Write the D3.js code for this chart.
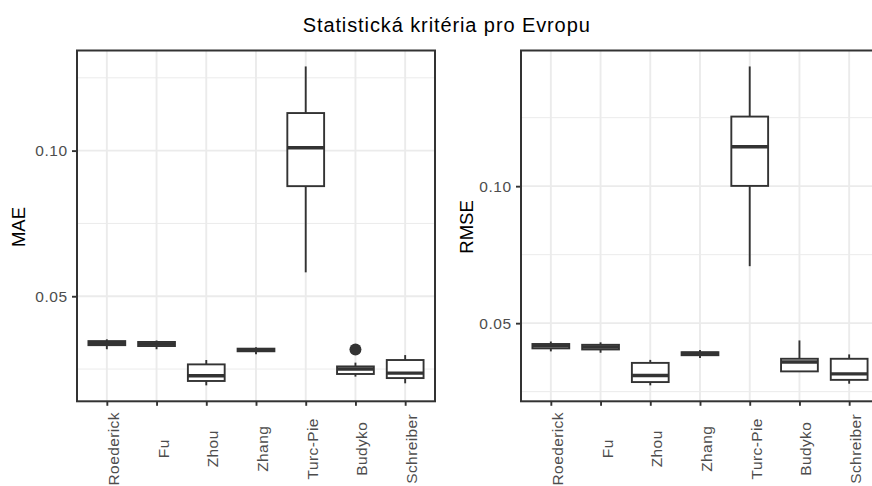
<!DOCTYPE html>
<html>
<head>
<meta charset="utf-8">
<script src="https://cdn.jsdelivr.net/npm/d3@7"></script>
<style>
body { margin: 0; background: #fff; }
text { font-family: "Liberation Sans", Arial, sans-serif; }
</style>
</head>
<body>
<div class="chart"></div>
<script>
var methods = ["Roederick", "Fu", "Zhou", "Zhang", "Turc-Pie", "Budyko", "Schreiber"]

// MAE box stats
var maeLow  = [0.0318, 0.0318, 0.0194, 0.0301, 0.0582, 0.0224, 0.0201]
var maeQ1   = [0.0332, 0.0329, 0.0209, 0.0311, 0.0878, 0.0233, 0.0219]
var maeMed  = [0.0338, 0.0336, 0.0227, 0.0315, 0.1010, 0.0250, 0.0236]
var maeQ3   = [0.0346, 0.0343, 0.0266, 0.0320, 0.1129, 0.0259, 0.0281]
var maeHigh = [0.0352, 0.0348, 0.0281, 0.0325, 0.1289, 0.0272, 0.0298]
var maeOut  = [[], [], [], [], [], [0.0317], []]

// RMSE box stats
var rmseLow  = [0.0397, 0.0392, 0.0273, 0.0373, 0.0708, 0.0324, 0.0279]
var rmseQ1   = [0.0408, 0.0404, 0.0285, 0.0383, 0.1001, 0.0324, 0.0293]
var rmseMed  = [0.0417, 0.0413, 0.0309, 0.0389, 0.1144, 0.0358, 0.0315]
var rmseQ3   = [0.0424, 0.0421, 0.0355, 0.0394, 0.1254, 0.0370, 0.0370]
var rmseHigh = [0.0433, 0.0430, 0.0366, 0.0402, 0.1437, 0.0437, 0.0386]
var rmseOut  = [[], [], [], [], [], [], []]

var yTicks = [0.05, 0.10]
var yMinor = [0.025, 0.075, 0.125]

var title = "Statistická kritéria pro Evropu"

let svg = d3.select('div.chart').append('svg')
  .attr("width", 872).attr("height", 486)
  .style("display", "block")

svg.append("rect").attr("width", 872).attr("height", 486).attr("fill", "#fff")

svg.append("text")
  .attr("x", 446.7).attr("y", 32)
  .attr("text-anchor", "middle")
  .style("font-size", "20px")
  .style("letter-spacing", "0.9px")
  .attr("fill", "#000")
  .text(title)

var panelTop = 50.5, panelBottom = 401.3, pw = 358

function panel(x0, name, labelX, low, q1, med, q3, high, out) {
  var vals = low.concat(high, out.flat())
  var lo = d3.min(vals), hi = d3.max(vals), pad = (hi - lo) * 0.05

  let y = d3.scaleLinear().domain([lo - pad, hi + pad]).range([panelBottom, panelTop])
  let x = d3.scalePoint().domain(methods).range([x0, x0 + pw]).padding(0.6)
  let bw = x.step() * 0.74

  let g = svg.append("g")

  //grid
  g.selectAll(".minor").data(yMinor.filter(d => d > lo - pad && d < hi + pad)).enter()
    .append("line")
    .attr("x1", x0).attr("x2", x0 + pw)
    .attr("y1", d => y(d)).attr("y2", d => y(d))
    .attr("stroke", "#ebebeb").attr("stroke-width", 1)

  g.selectAll(".major").data(yTicks).enter()
    .append("line")
    .attr("x1", x0).attr("x2", x0 + pw)
    .attr("y1", d => y(d)).attr("y2", d => y(d))
    .attr("stroke", "#ebebeb").attr("stroke-width", 1.9)

  g.selectAll(".vgrid").data(methods).enter()
    .append("line")
    .attr("x1", d => x(d)).attr("x2", d => x(d))
    .attr("y1", panelTop).attr("y2", panelBottom)
    .attr("stroke", "#ebebeb").attr("stroke-width", 1.9)

  //whiskers
  g.selectAll(".whiskHi").data(methods).enter()
    .append("line")
    .attr("x1", d => x(d)).attr("x2", d => x(d))
    .attr("y1", (d, i) => y(q3[i])).attr("y2", (d, i) => y(high[i]))
    .attr("stroke", "#333").attr("stroke-width", 1.9)

  g.selectAll(".whiskLo").data(methods).enter()
    .append("line")
    .attr("x1", d => x(d)).attr("x2", d => x(d))
    .attr("y1", (d, i) => y(q1[i])).attr("y2", (d, i) => y(low[i]))
    .attr("stroke", "#333").attr("stroke-width", 1.9)

  //boxes
  g.selectAll(".box").data(methods).enter()
    .append("rect")
    .attr("x", d => x(d) - bw / 2)
    .attr("width", bw)
    .attr("y", (d, i) => y(q3[i]))
    .attr("height", (d, i) => y(q1[i]) - y(q3[i]))
    .attr("fill", "#fff")
    .attr("stroke", "#333").attr("stroke-width", 1.9)

  g.selectAll(".median").data(methods).enter()
    .append("line")
    .attr("x1", d => x(d) - bw / 2).attr("x2", d => x(d) + bw / 2)
    .attr("y1", (d, i) => y(med[i])).attr("y2", (d, i) => y(med[i]))
    .attr("stroke", "#333").attr("stroke-width", 3.4)

  //outliers
  var pts = []
  out.forEach((o, i) => o.forEach(v => pts.push({m: methods[i], v: v})))
  g.selectAll(".out").data(pts).enter()
    .append("circle")
    .attr("cx", d => x(d.m)).attr("cy", d => y(d.v))
    .attr("r", 6).attr("fill", "#333")

  //border
  g.append("rect")
    .attr("x", x0).attr("y", panelTop)
    .attr("width", pw).attr("height", panelBottom - panelTop)
    .attr("fill", "none").attr("stroke", "#333").attr("stroke-width", 2)

  //Axis_y
  let ya = g.append("g")
    .attr("transform", "translate(" + x0 + ",0)")
    .call(d3.axisLeft(y).tickValues(yTicks).tickFormat(d3.format(".2f")).tickSize(5).tickPadding(4.5))
  ya.select(".domain").remove()
  ya.selectAll("line").attr("stroke", "#333").attr("stroke-width", 1.9)
  ya.selectAll("text")
    .attr("fill", "#4d4d4d")
    .style("font-size", "15.5px")
    .style("letter-spacing", "0.5px")
    .attr("font-family", null)

  //Axis_x
  let xa = g.append("g")
    .attr("transform", "translate(0," + panelBottom + ")")
    .call(d3.axisBottom(x).tickSize(4.5))
  xa.select(".domain").remove()
  xa.selectAll("line").attr("stroke", "#333").attr("stroke-width", 1.9)
  xa.selectAll("text")
    .attr("y", 0).attr("dy", 0)
    .attr("text-anchor", "middle")
    .attr("transform", "translate(11.5,47.5) rotate(-90)")
    .attr("fill", "#4d4d4d")
    .style("font-size", "15.5px")
    .style("letter-spacing", "0.4px")
    .attr("font-family", null)

  //axis title
  svg.append("text")
    .attr("transform", "translate(" + labelX + ",227) rotate(-90)")
    .attr("text-anchor", "middle")
    .style("font-size", "18.5px")
    .attr("fill", "#000")
    .text(name)
}

panel(77, "MAE", 25, maeLow, maeQ1, maeMed, maeQ3, maeHigh, maeOut)
panel(521, "RMSE", 473.3, rmseLow, rmseQ1, rmseMed, rmseQ3, rmseHigh, rmseOut)
</script>
</body>
</html>
